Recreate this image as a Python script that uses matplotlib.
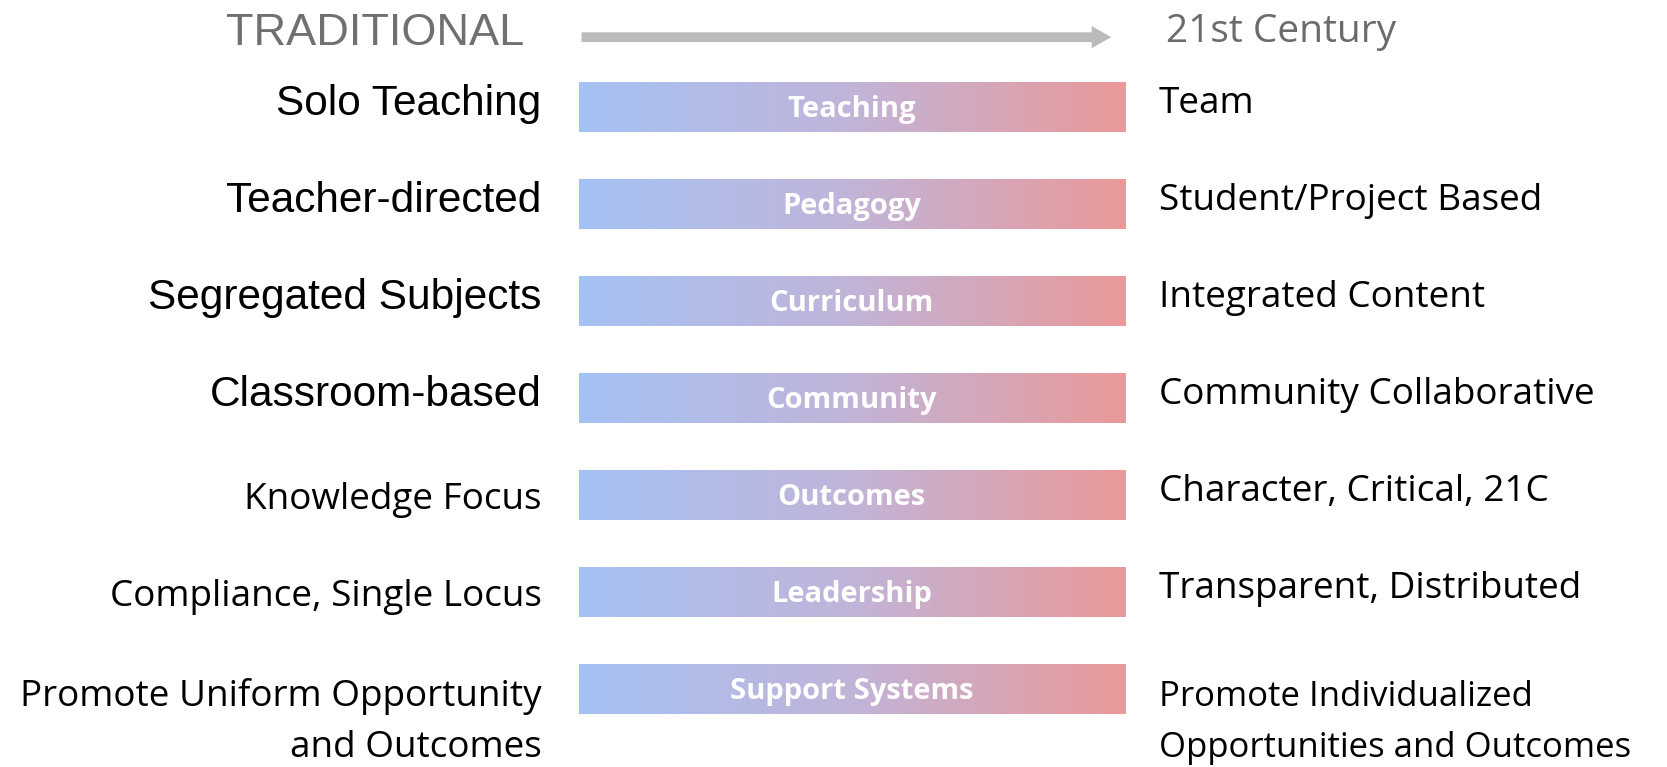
import numpy as np
import matplotlib
matplotlib.use('Agg')
import matplotlib.pyplot as plt
from matplotlib.colors import LinearSegmentedColormap
from matplotlib.patches import FancyArrowPatch

categories = ['Teaching', 'Pedagogy', 'Curriculum', 'Community', 'Outcomes',
              'Leadership', 'Support Systems']
traditional = ['Solo Teaching', 'Teacher-directed', 'Segregated Subjects',
               'Classroom-based', 'Knowledge Focus', 'Compliance, Single Locus',
               'Promote Uniform Opportunity\nand Outcomes']
modern = ['Team', 'Student/Project Based', 'Integrated Content',
          'Community Collaborative', 'Character, Critical, 21C',
          'Transparent, Distributed',
          'Promote Individualized\nOpportunities and Outcomes']
# first four left labels are in an Arial-like face, the rest Calibri-like
arial_left = [True, True, True, True, False, False, False]

arial = 'Liberation Sans'
calibri = 'Open Sans'

cmap = LinearSegmentedColormap.from_list('trad21', ['#a4c2f4', '#c1b4d8', '#ea9999'])
gradient = np.linspace(0, 1, 256).reshape(1, -1)

fig = plt.figure(figsize=(16.67, 7.67), dpi=100)
ax = fig.add_axes([0, 0, 1, 1])

bar_h = 0.515
line_step = 0.525


def draw_label(x, y, txt, ha, family, size):
    # each line of a label is placed on its own baseline
    for k, line in enumerate(txt.split('\n')):
        ax.text(x, y + k * line_step, line, ha=ha, va='baseline',
                fontsize=size, family=family, color='black')


for i, cat in enumerate(categories):
    ax.imshow(gradient, cmap=cmap, aspect='auto',
              extent=(0, 1, i + bar_h / 2, i - bar_h / 2))
    ax.text(0.5, i + 0.03, cat, ha='center', va='center', color='white',
            fontsize=21, fontweight='bold', family=calibri)

    multi = '\n' in traditional[i]
    if arial_left[i]:
        draw_label(-0.068, i + 0.082, traditional[i], 'right', arial, 30.5)
    else:
        draw_label(-0.068, i + (0.18 if multi else 0.144), traditional[i],
                   'right', calibri, 26.6)

    multi = '\n' in modern[i]
    draw_label(1.062, i + (0.18 if multi else 0.062), modern[i], 'left',
               calibri, 25 if multi else 26.6)

# header
ax.text(-0.10, -0.643, 'TRADITIONAL', ha='right', va='baseline', fontsize=32.5,
        family=arial, color='#707070')
ax.text(1.075, -0.665, '21st Century', ha='left', va='baseline', fontsize=28,
        family=calibri, color='#6b6b6b')
arrow = FancyArrowPatch((0, -0.72), (0.98, -0.72),
                        arrowstyle='simple,head_width=16,head_length=14,tail_width=7',
                        color='#bbbbbb', mutation_scale=1, lw=0)
ax.add_patch(arrow)

ax.set_xlim(-1.060, 1.993)
ax.set_ylim((767 - 107) / 97, -107 / 97)
ax.axis('off')

fig.savefig('out.png', dpi=100)
